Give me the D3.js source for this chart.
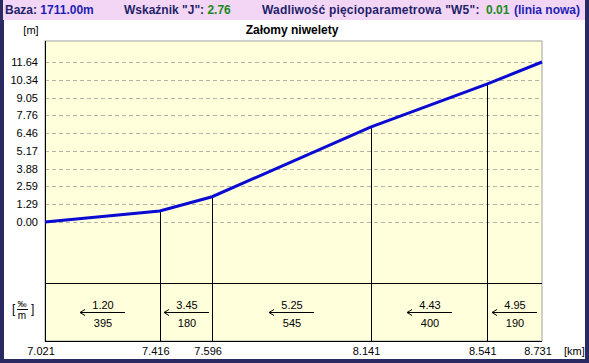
<!DOCTYPE html>
<html>
<head>
<meta charset="utf-8">
<script src="https://cdn.jsdelivr.net/npm/d3@7"></script>
<style>
  body { margin: 0; background: #fff; }
  svg text { font-family: "Liberation Sans", Arial, sans-serif; }
</style>
</head>
<body>
<div id="chart"></div>
<script>
(function() {
  var km = [7.021, 7.416, 7.596, 8.141, 8.541, 8.731];
  var elev = [0.00, 0.80, 1.84, 6.91, 10.03, 11.64];
  var slopes = ['1.20', '3.45', '5.25', '4.43', '4.95'];
  var lengths = [395, 180, 545, 400, 190];
  var yTicks = [0.00, 1.29, 2.59, 3.88, 5.17, 6.46, 7.76, 9.05, 10.34, 11.64];
  var kmLabels = ['7.021', '7.416', '7.596', '8.141', '8.541', '8.731'];

  var WIDTH = 589, HEIGHT = 363;
  var LEFT = 45, RIGHT = 542, TOP = 41, MID = 283, BOTTOM = 341;

  var svg = d3.select('#chart').append('svg')
    .attr('width', WIDTH)
    .attr('height', HEIGHT);

  // window frame
  svg.append('rect').attr('width', WIDTH).attr('height', HEIGHT).style('fill', '#2a2a62');
  svg.append('rect').attr('x', 3).attr('y', 0).attr('width', 582).attr('height', 20).style('fill', '#f3d6f5');
  svg.append('rect').attr('x', 4).attr('y', 20).attr('width', 581).attr('height', 339).style('fill', '#fff');

  // header line
  var head = svg.append('text').attr('y', 14).style('font-size', '12px').style('font-weight', 'bold');
  var parts = [
    { x: 5, t: 'Baza: ', c: '#1f1f6a' }, { t: '1711.00m', c: '#1e1eb4' },
    { x: 124, t: 'Wskaźnik "J": ', c: '#1f1f6a' }, { t: '2.76', c: '#1a8a1a' },
    { x: 262, t: 'Wadliwość pięcioparametrowa "W5": ', c: '#1f1f6a', ls: 0.2 },
    { x: 486, t: '0.01', c: '#1a8a1a' },
    { x: 514, t: '(linia nowa)', c: '#1e1eb4' }
  ];
  parts.forEach(function(p) {
    var ts = head.append('tspan').text(p.t).style('fill', p.c);
    if (p.x !== undefined) ts.attr('x', p.x);
    if (p.ls) ts.style('letter-spacing', p.ls + 'px');
  });

  var x = d3.scaleLinear().domain([km[0], km[km.length - 1]]).range([LEFT, RIGHT]);
  var y = d3.scaleLinear().domain([0, 11.64]).range([222, 62]);

  // plot background
  svg.append('rect')
    .attr('x', LEFT).attr('y', TOP)
    .attr('width', RIGHT - LEFT).attr('height', BOTTOM - TOP)
    .style('fill', '#ffffdc')
    .style('stroke', '#a0a0a0');

  // grid
  svg.selectAll('.grid')
    .data(yTicks)
    .enter()
      .append('line')
      .attr('class', 'grid')
      .attr('x1', LEFT).attr('x2', RIGHT)
      .attr('y1', function(d) { return Math.round(y(d)) + 0.5; })
      .attr('y2', function(d) { return Math.round(y(d)) + 0.5; })
      .style('stroke', '#b4b4a4')
      .style('stroke-dasharray', '4,3');

  svg.selectAll('.ytick')
    .data(yTicks)
    .enter()
      .append('text')
      .attr('class', 'ytick')
      .attr('x', 38)
      .attr('y', function(d) { return Math.round(y(d)) + 4; })
      .attr('text-anchor', 'end')
      .style('font-size', '11px')
      .text(function(d) { return d.toFixed(2); });

  // break verticals
  svg.selectAll('.brk')
    .data(km.slice(1, km.length - 1))
    .enter()
      .append('line')
      .attr('class', 'brk')
      .attr('x1', function(d) { return Math.round(x(d)) + 0.5; })
      .attr('x2', function(d) { return Math.round(x(d)) + 0.5; })
      .attr('y1', function(d, i) { return y(elev[i + 1]); })
      .attr('y2', BOTTOM)
      .style('stroke', '#000');

  // axes lines
  svg.append('line').attr('x1', LEFT + 0.5).attr('x2', LEFT + 0.5).attr('y1', TOP).attr('y2', BOTTOM).style('stroke', '#000');
  svg.append('line').attr('x1', LEFT).attr('x2', RIGHT).attr('y1', MID + 0.5).attr('y2', MID + 0.5).style('stroke', '#000');
  svg.append('line').attr('x1', LEFT).attr('x2', RIGHT).attr('y1', BOTTOM + 0.5).attr('y2', BOTTOM + 0.5).style('stroke', '#000');

  // profile line
  var line = d3.line()
    .x(function(d, i) { return x(km[i]); })
    .y(function(d) { return y(d); });

  svg.append('path')
    .datum(elev)
    .attr('d', line)
    .style('fill', 'none')
    .style('stroke', '#0a0ad2')
    .style('stroke-width', 3);

  // slope labels in lower panel
  var segs = slopes.map(function(s, i) {
    return { slope: s, len: lengths[i], mid: (x(km[i]) + x(km[i + 1])) / 2 };
  });

  var seg = svg.selectAll('.seg')
    .data(segs)
    .enter()
      .append('g')
      .attr('class', 'seg')
      .attr('transform', function(d) { return 'translate(' + Math.round(d.mid) + ',312)'; });

  seg.append('path')
    .attr('d', 'M-22,0.5H23M-22,0.5l5,-3M-22,0.5l5,3')
    .style('fill', 'none')
    .style('stroke', '#000');

  seg.append('text')
    .attr('x', 1).attr('y', -3)
    .attr('text-anchor', 'middle')
    .style('font-size', '11px')
    .text(function(d) { return d.slope; });

  seg.append('text')
    .attr('x', 1).attr('y', 15)
    .attr('text-anchor', 'middle')
    .style('font-size', '11px')
    .text(function(d) { return d.len; });

  // x labels
  svg.selectAll('.xtick')
    .data(km)
    .enter()
      .append('text')
      .attr('class', 'xtick')
      .attr('x', function(d) { return x(d) - 4; })
      .attr('y', 355)
      .attr('text-anchor', 'middle')
      .style('font-size', '11px')
      .text(function(d, i) { return kmLabels[i]; });

  svg.append('text').attr('x', 564).attr('y', 355).style('font-size', '11px').text('[km]');

  // titles and units
  svg.append('text').attr('x', 292).attr('y', 34).attr('text-anchor', 'middle')
    .style('font-size', '12px').style('font-weight', 'bold').text('Załomy niwelety');
  svg.append('text').attr('x', 31).attr('y', 34).attr('text-anchor', 'middle')
    .style('font-size', '11px').text('[m]');

  var unit = svg.append('g').attr('transform', 'translate(21,309)');
  unit.append('text').attr('x', -9).attr('y', 4).style('font-size', '12px').text('[');
  unit.append('text').attr('x', 10).attr('y', 4).style('font-size', '12px').text(']');
  unit.append('text').attr('x', 1).attr('y', -2).attr('text-anchor', 'middle').style('font-size', '9px').text('‰');
  unit.append('line').attr('x1', -4).attr('x2', 7).attr('y1', 0.5).attr('y2', 0.5).style('stroke', '#000');
  unit.append('text').attr('x', 1).attr('y', 10).attr('text-anchor', 'middle').style('font-size', '10px').text('m');
})();
</script>
</body>
</html>
